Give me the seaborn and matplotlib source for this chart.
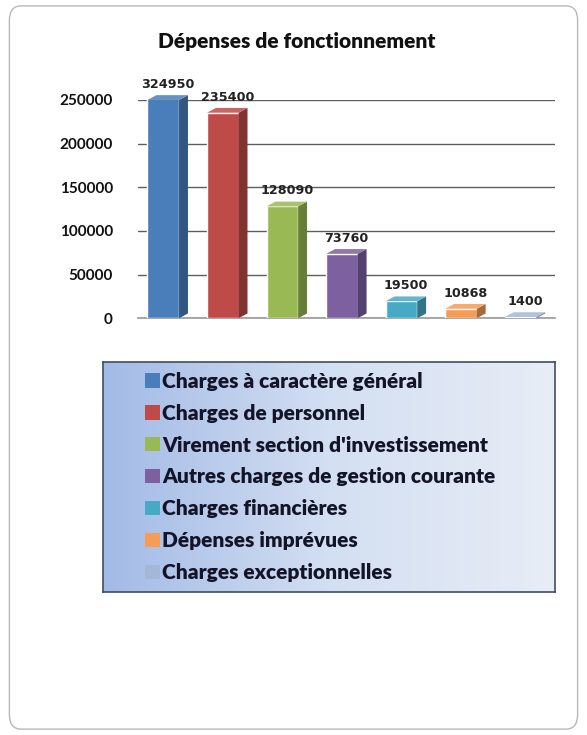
import matplotlib
matplotlib.use("Agg")
import matplotlib.pyplot as plt
import seaborn as sns
import numpy as np
from matplotlib.patches import Patch, Polygon, FancyBboxPatch
from matplotlib.colors import to_rgb, LinearSegmentedColormap

categories = ["Charges à caractère général", "Charges de personnel",
              "Virement section d'investissement", "Autres charges de gestion courante",
              "Charges financières", "Dépenses imprévues", "Charges exceptionnelles"]
values = [324950, 235400, 128090, 73760, 19500, 10868, 1400]
value_labels = ["324950", "235400", "128090", "73760", "19500", "10868", "1400"]
colors = ["#4A7EBB", "#BE4B48", "#98B954", "#7D60A0", "#46AAC5", "#F59D56", "#A5B7D6"]
yticks = [0, 50000, 100000, 150000, 200000, 250000]
title = "Dépenses de fonctionnement"

sns.set_theme(style="white")
plt.rcParams['font.family'] = ['Lato', 'DejaVu Sans']

fig = plt.figure(figsize=(5.87, 7.35), dpi=100)

# outer rounded frame
frame = FancyBboxPatch((0.016, 0.008), 0.968, 0.984, boxstyle="round,pad=0,rounding_size=0.02",
                       transform=fig.transFigure, facecolor="none", edgecolor="#B8B8B8",
                       linewidth=1.0, zorder=-1)
fig.add_artist(frame)

ax = fig.add_axes([0.235, 0.567, 0.71, 0.297])
sns.barplot(x=categories, y=values, hue=categories, palette=colors, legend=False,
            width=0.68, ax=ax, saturation=1, zorder=3)
ax.set_ylim(0, 250000)
ax.set_yticks(yticks)
ax.set_yticklabels([str(t) for t in yticks], fontsize=11, fontweight="bold", color="#111111")
ax.set_xticks([])
ax.set_xlabel("")
ax.set_ylabel("")
for s in ["top", "right", "left"]:
    ax.spines[s].set_visible(False)
ax.spines["bottom"].set_color("#9A9A9A")
ax.spines["bottom"].set_linewidth(1.2)
ax.yaxis.grid(True, color="#5E5E5E", linewidth=1.0, zorder=0)
ax.set_axisbelow(True)
ax.tick_params(axis="y", length=0, pad=18)

ymax = ax.get_ylim()[1]
dy = ymax * 0.022
for p, col, lab, v in zip(ax.patches, colors, value_labels, values):
    x, w, h = p.get_x(), p.get_width(), min(p.get_height(), ymax)
    rgb = np.array(to_rgb(col))
    dark = tuple(rgb * 0.68)
    light = tuple(np.clip(rgb * 0.85 + 0.15, 0, 1))
    f = 0.78
    p.set_width(w * f)
    side = Polygon([(x + w * f, 0), (x + w, dy), (x + w, h + dy), (x + w * f, h)],
                   closed=True, facecolor=dark, edgecolor="none", zorder=4, clip_on=False)
    topf = Polygon([(x, h), (x + w * f, h), (x + w, h + dy), (x + w * (1 - f), h + dy)],
                   closed=True, facecolor=light, edgecolor="none", zorder=4, clip_on=False)
    ax.add_patch(side)
    ax.add_patch(topf)
    top = min(v, ymax)
    ax.annotate(lab, (x + w / 2, top + dy), xytext=(0, 3), textcoords="offset points",
                ha="center", va="bottom", fontsize=9.2, fontweight="bold",
                family=["DejaVu Sans"], color="#222222", annotation_clip=False, zorder=5)

fig.text(0.505, 0.943, title, ha="center", va="center", fontsize=15,
         fontweight="heavy", color="#111111")

# legend panel with gradient
lax = fig.add_axes([103 / 587, 1 - 592 / 735, 452 / 587, 230 / 735])
grad = np.linspace(0, 1, 256).reshape(1, -1)
cmap = LinearSegmentedColormap.from_list("g", ["#A2BAE6", "#D3DFF2", "#E8EDF6"])
lax.imshow(grad, aspect="auto", cmap=cmap, extent=[0, 1, 0, 1], zorder=0)
lax.set_xlim(0, 1)
lax.set_ylim(0, 1)
lax.set_xticks([])
lax.set_yticks([])
for s in lax.spines.values():
    s.set_color("#3F4E63")
    s.set_linewidth(1.2)
handles = [Patch(facecolor=c, edgecolor="none") for c in colors]
leg = lax.legend(handles, categories, loc="center left", bbox_to_anchor=(0.07, 0.5),
                 frameon=False, prop={"weight": "heavy", "size": 15},
                 handlelength=0.7, handleheight=0.68, handletextpad=0.12,
                 labelspacing=0.62, borderpad=0)
for t in leg.get_texts():
    t.set_color("#141428")

fig.savefig("out.png", dpi=100)
